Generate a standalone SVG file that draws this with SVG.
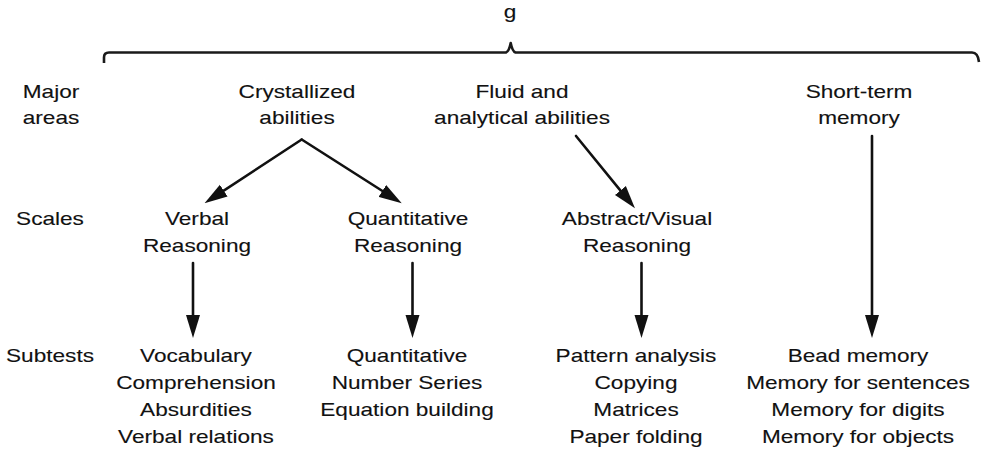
<svg xmlns="http://www.w3.org/2000/svg" width="982" height="450" viewBox="0 0 982 450">
  <style>
    text { font-family: "Liberation Sans", Arial, Helvetica, sans-serif; font-size: 19px; fill: #111; stroke: #111; stroke-width: 0.12; text-anchor: middle; }
    .wire { fill: none; stroke: #111; stroke-width: 2.6; stroke-linecap: round; stroke-linejoin: round; }
    .brace { fill: none; stroke: #1a1a1a; stroke-width: 2.6; stroke-linejoin: round; }
  </style>
  <defs>
    <marker id="ah" markerUnits="userSpaceOnUse" markerWidth="23" markerHeight="15" refX="15" refY="7.5" orient="auto">
      <path d="M0,0.5 L23,7.5 L0,14.5 Z" fill="#111"/>
    </marker>
  </defs>

  <rect width="982" height="450" fill="#fff"/>

  <!-- general factor and its brace -->
  <g id="g-factor">
    <g transform="translate(510,0) scale(1.19,1)"><text x="0" y="18">g</text></g>
    <path class="brace" d="M104,63 L104,57.5 Q104,52.5 109,52.5 L506,52.5 Q509,51.5 510.7,43 Q512.4,51.5 515.5,52.5 L972,52.5 Q978,52.5 979,62"/>
  </g>

  <!-- row labels -->
  <g id="row-major" transform="translate(51,0) scale(1.19,1)">
    <text x="0" y="98">Major</text>
    <text x="0" y="124.5">areas</text>
  </g>
  <g id="row-scales" transform="translate(50,0) scale(1.19,1)">
    <text x="0" y="225">Scales</text>
  </g>
  <g id="row-subtests" transform="translate(50,0) scale(1.19,1)">
    <text x="0" y="362">Subtests</text>
  </g>

  <!-- major areas -->
  <g id="crystallized" transform="translate(297,0) scale(1.19,1)">
    <text x="0" y="98">Crystallized</text>
    <text x="0" y="124.5">abilities</text>
  </g>
  <g id="fluid" transform="translate(522,0) scale(1.19,1)">
    <text x="0" y="98">Fluid and</text>
    <text x="0" y="124.5">analytical abilities</text>
  </g>
  <g id="short-term" transform="translate(859,0) scale(1.19,1)">
    <text x="0" y="98">Short-term</text>
    <text x="0" y="124.5">memory</text>
  </g>

  <!-- scales -->
  <g id="verbal" transform="translate(197,0) scale(1.19,1)">
    <text x="0" y="225">Verbal</text>
    <text x="0" y="252">Reasoning</text>
  </g>
  <g id="quantitative" transform="translate(408,0) scale(1.19,1)">
    <text x="0" y="225">Quantitative</text>
    <text x="0" y="252">Reasoning</text>
  </g>
  <g id="abstract" transform="translate(637,0) scale(1.19,1)">
    <text x="0" y="225">Abstract/Visual</text>
    <text x="0" y="252">Reasoning</text>
  </g>

  <!-- subtests -->
  <g id="verbal-tests" transform="translate(196,0) scale(1.19,1)">
    <text x="0" y="362">Vocabulary</text>
    <text x="0" y="389">Comprehension</text>
    <text x="0" y="416.5">Absurdities</text>
    <text x="0" y="443">Verbal relations</text>
  </g>
  <g id="quantitative-tests" transform="translate(407,0) scale(1.19,1)">
    <text x="0" y="362">Quantitative</text>
    <text x="0" y="389">Number Series</text>
    <text x="0" y="416.5">Equation building</text>
  </g>
  <g id="abstract-tests" transform="translate(636,0) scale(1.19,1)">
    <text x="0" y="362">Pattern analysis</text>
    <text x="0" y="389">Copying</text>
    <text x="0" y="416.5">Matrices</text>
    <text x="0" y="443">Paper folding</text>
  </g>
  <g id="memory-tests" transform="translate(858,0) scale(1.19,1)">
    <text x="0" y="362">Bead memory</text>
    <text x="0" y="389">Memory for sentences</text>
    <text x="0" y="416.5">Memory for digits</text>
    <text x="0" y="443">Memory for objects</text>
  </g>

  <!-- connectors -->
  <g id="connectors">
    <path class="wire" d="M301.7,139.5 L211.2,198.9" marker-end="url(#ah)"/>
    <path class="wire" d="M301.7,139.5 L395,199" marker-end="url(#ah)"/>
    <path class="wire" d="M576,136 L629.9,202.1" marker-end="url(#ah)"/>
    <path class="wire" d="M872,136 L872,330" marker-end="url(#ah)"/>
    <path class="wire" d="M193,263 L193,330" marker-end="url(#ah)"/>
    <path class="wire" d="M412.5,263 L412.5,330" marker-end="url(#ah)"/>
    <path class="wire" d="M641.5,263 L641.5,330" marker-end="url(#ah)"/>
  </g>
</svg>
